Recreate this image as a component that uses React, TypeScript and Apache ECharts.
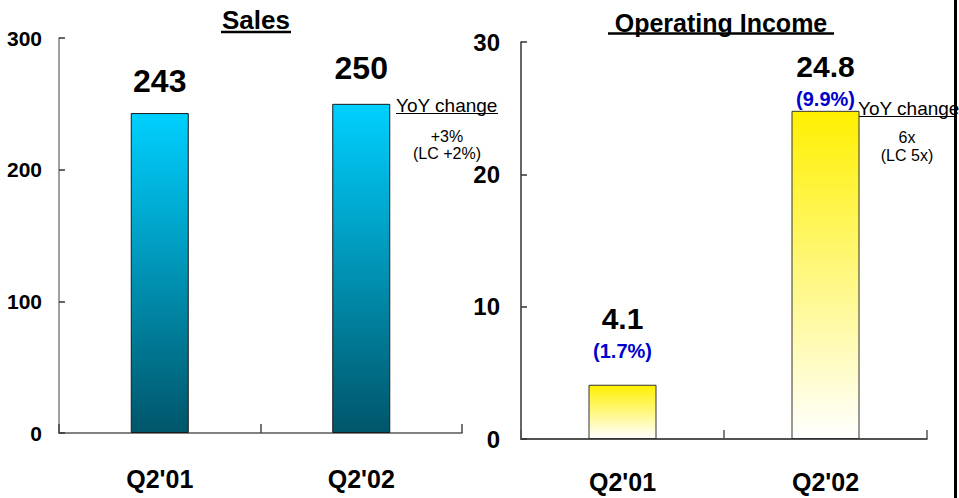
import React, { useEffect, useRef } from "react";
import * as echarts from "echarts";

const categories = ["Q2'01", "Q2'02"];
const salesValues = [243, 250];
const opIncomeValues = [4.1, 24.8];
const opMargins = ["(1.7%)", "(9.9%)"];
const salesTicks = { min: 0, max: 300, interval: 100 };
const opTicks = { min: 0, max: 30, interval: 10 };
const salesTitle = "Sales";
const opTitle = "Operating Income";
const salesYoY = ["+3%", "(LC +2%)"];
const opYoY = ["6x", "(LC 5x)"];
const yoyLabel = "YoY change";

const FONT = "'Liberation Sans', Arial, Helvetica, sans-serif";

export default function App() {
  const ref = useRef<HTMLDivElement>(null);

  useEffect(() => {
    if (!ref.current) return;
    const chart = echarts.init(ref.current, undefined, { renderer: "svg" });

    const salesDist = [16, 20];
    const opDist = [22, 0];

    const option = {
      animation: false,
      backgroundColor: "#ffffff",
      grid: [
        { left: 59, top: 38, width: 403, height: 395 },
        { left: 521, top: 42, width: 406, height: 397 },
      ],
      xAxis: [
        {
          type: "category",
          gridIndex: 0,
          data: categories,
          axisLine: { lineStyle: { color: "#5a5a5a", width: 1.5 } },
          axisTick: { show: true, interval: 0, inside: true, length: 9, lineStyle: { color: "#444", width: 1.5 } },
          axisLabel: {
            margin: 33,
            color: "#000",
            fontSize: 25,
            fontWeight: "bold",
            fontFamily: FONT,
          },
        },
        {
          type: "category",
          gridIndex: 1,
          data: categories,
          axisLine: { lineStyle: { color: "#1a1a1a", width: 1.5 } },
          axisTick: { show: true, interval: 0, inside: true, length: 9, lineStyle: { color: "#555", width: 1.5 } },
          axisLabel: {
            margin: 30,
            color: "#000",
            fontSize: 25,
            fontWeight: "bold",
            fontFamily: FONT,
          },
        },
      ],
      yAxis: [
        {
          type: "value",
          gridIndex: 0,
          min: salesTicks.min,
          max: salesTicks.max,
          interval: salesTicks.interval,
          splitLine: { show: false },
          axisLine: { show: true, lineStyle: { color: "#808080", width: 1.5 } },
          axisTick: { show: true, inside: true, length: 6, lineStyle: { color: "#333", width: 1.5 } },
          axisLabel: {
            margin: 17,
            color: "#000",
            fontSize: 21,
            fontWeight: "bold",
            fontFamily: FONT,
          },
        },
        {
          type: "value",
          gridIndex: 1,
          min: opTicks.min,
          max: opTicks.max,
          interval: opTicks.interval,
          splitLine: { show: false },
          axisLine: { show: true, lineStyle: { color: "#333", width: 1.5 } },
          axisTick: { show: true, inside: true, length: 6, lineStyle: { color: "#333", width: 1.5 } },
          axisLabel: {
            margin: 21,
            color: "#000",
            fontSize: 24,
            fontWeight: "bold",
            fontFamily: FONT,
          },
        },
      ],
      series: [
        {
          type: "bar",
          xAxisIndex: 0,
          yAxisIndex: 0,
          barWidth: 58,
          data: salesValues.map((v, i) => ({
            value: v,
            label: { distance: salesDist[i] },
          })),
          itemStyle: {
            color: new echarts.graphic.LinearGradient(0, 0, 0, 1, [
              { offset: 0, color: "#00D0FF" },
              { offset: 1, color: "#00566A" },
            ]),
            borderColor: "#1a1a1a",
            borderWidth: 1,
          },
          label: {
            show: true,
            position: "top",
            color: "#000",
            fontSize: 32,
            lineHeight: 32,
            fontWeight: "bold",
            fontFamily: FONT,
          },
        },
        {
          type: "bar",
          xAxisIndex: 1,
          yAxisIndex: 1,
          barWidth: 68,
          data: opIncomeValues.map((v, i) => ({
            value: v,
            label: { distance: opDist[i] },
          })),
          itemStyle: {
            color: new echarts.graphic.LinearGradient(0, 0, 0, 1, [
              { offset: 0, color: "#FFF000" },
              { offset: 1, color: "#FFFFFF" },
            ]),
            borderColor: "#333",
            borderWidth: 1,
          },
          label: {
            show: true,
            position: "top",
            fontFamily: FONT,
            formatter: (p: any) => `{v|${p.value}}\n{m|${opMargins[p.dataIndex]}}`,
            rich: {
              v: {
                fontSize: 30,
                lineHeight: 40,
                fontWeight: "bold",
                color: "#000",
                fontFamily: FONT,
              },
              m: {
                fontSize: 20,
                lineHeight: 24,
                fontWeight: "bold",
                color: "#0000CC",
                fontFamily: FONT,
              },
            },
          },
        },
      ],
      graphic: [
        {
          type: "text",
          x: 256,
          y: 19.5,
          style: {
            text: salesTitle,
            fontSize: 26,
            fontWeight: "bold",
            fontFamily: FONT,
            fill: "#000",
            textAlign: "center",
            textVerticalAlign: "middle",
          },
        },
        {
          type: "line",
          shape: { x1: 221, y1: 32, x2: 291, y2: 32 },
          style: { stroke: "#000", lineWidth: 2.5 },
        },
        {
          type: "text",
          x: 721,
          y: 22.5,
          style: {
            text: opTitle,
            fontSize: 25,
            fontWeight: "bold",
            fontFamily: FONT,
            fill: "#000",
            textAlign: "center",
            textVerticalAlign: "middle",
          },
        },
        {
          type: "line",
          shape: { x1: 608, y1: 33.5, x2: 834, y2: 33.5 },
          style: { stroke: "#000", lineWidth: 2.5 },
        },
        {
          type: "text",
          x: 396,
          y: 105,
          style: {
            text: yoyLabel,
            fontSize: 19,
            fontFamily: FONT,
            fill: "#000",
            textAlign: "left",
            textVerticalAlign: "middle",
          },
        },
        {
          type: "line",
          shape: { x1: 396, y1: 113.5, x2: 498, y2: 113.5 },
          style: { stroke: "#000", lineWidth: 1.2 },
        },
        {
          type: "text",
          x: 447,
          y: 136,
          style: {
            text: salesYoY[0],
            fontSize: 16,
            fontFamily: FONT,
            fill: "#000",
            textAlign: "center",
            textVerticalAlign: "middle",
          },
        },
        {
          type: "text",
          x: 447,
          y: 153,
          style: {
            text: salesYoY[1],
            fontSize: 16,
            fontFamily: FONT,
            fill: "#000",
            textAlign: "center",
            textVerticalAlign: "middle",
          },
        },
        {
          type: "text",
          x: 858,
          y: 108,
          style: {
            text: yoyLabel,
            fontSize: 19,
            fontFamily: FONT,
            fill: "#000",
            textAlign: "left",
            textVerticalAlign: "middle",
          },
        },
        {
          type: "line",
          shape: { x1: 857, y1: 116.5, x2: 955, y2: 116.5 },
          style: { stroke: "#000", lineWidth: 1.2 },
        },
        {
          type: "text",
          x: 907,
          y: 137,
          style: {
            text: opYoY[0],
            fontSize: 16,
            fontFamily: FONT,
            fill: "#000",
            textAlign: "center",
            textVerticalAlign: "middle",
          },
        },
        {
          type: "text",
          x: 907,
          y: 155,
          style: {
            text: opYoY[1],
            fontSize: 16,
            fontFamily: FONT,
            fill: "#000",
            textAlign: "center",
            textVerticalAlign: "middle",
          },
        },
        {
          type: "rect",
          shape: { x: 954, y: 0, width: 3, height: 498 },
          style: { fill: "#000" },
          z: 100,
        },
      ],
    };

    chart.setOption(option as any);
    return () => chart.dispose();
  }, []);

  return (
    <div
      ref={ref}
      style={{ position: "absolute", left: 0, top: 0, width: 959, height: 498 }}
    />
  );
}
